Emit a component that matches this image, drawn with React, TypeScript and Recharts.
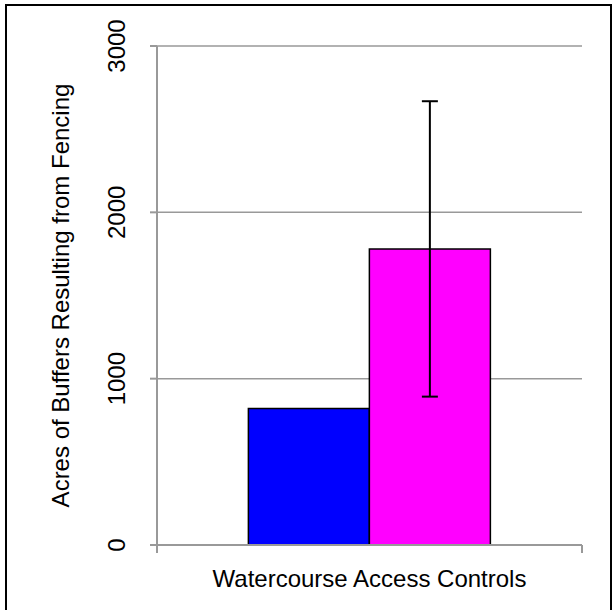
import React from 'react';
import { BarChart, Bar, XAxis, YAxis, CartesianGrid, ErrorBar, Label } from 'recharts';

/* ---------- data ---------- */
const categories = ['Watercourse Access Controls'];
const blueValues = [821];
const pinkValues = [1780];
const pinkErrors = [888];
const yTicks = [0, 1000, 2000, 3000];
const yTitle = 'Acres of Buffers Resulting from Fencing';

const data = categories.map((name, i) => ({
  name,
  blue: blueValues[i],
  pink: pinkValues[i],
  pinkErr: pinkErrors[i],
}));

const GRID = '#999999';
const FONT = '"Liberation Sans", Arial, sans-serif';
const FS = 24;

function YTick(props: any) {
  const { x, y, payload } = props;
  return (
    <text
      x={x}
      y={y}
      transform={`rotate(-90, ${x}, ${y})`}
      textAnchor="middle"
      fontSize={FS}
      fontFamily={FONT}
      fill="#000"
    >
      {payload.value}
    </text>
  );
}

// category label plus the tick marks at the band edges (Excel style)
function CatTick(props: any) {
  const { x, y, payload } = props;
  const half = payload?.offset ?? 212;
  return (
    <g>
      <line x1={x - half} y1={y} x2={x - half} y2={y + 8} stroke={GRID} strokeWidth={2} />
      <line x1={x + half} y1={y} x2={x + half} y2={y + 8} stroke={GRID} strokeWidth={2} />
      <text x={x} y={y + 42} textAnchor="middle" fontSize={FS} fontFamily={FONT} fill="#000">
        {payload.value}
      </text>
    </g>
  );
}

export default function App() {
  return (
    <div style={{ position: 'absolute', left: 0, top: 0, width: 613, height: 610, background: '#fff' }}>
      <div
        style={{
          position: 'absolute',
          left: 5,
          top: 4,
          width: 607,
          height: 612,
          border: '2px solid #000',
          boxSizing: 'border-box',
        }}
      />
      <div style={{ position: 'absolute', left: 0, top: 0 }}>
        <BarChart
          width={613}
          height={610}
          data={data}
          margin={{ top: 46, right: 31, bottom: 0, left: 0 }}
          barCategoryGap="21.5%"
          barGap={0}
        >
          <CartesianGrid vertical={false} stroke={GRID} strokeWidth={1.5} />
          <XAxis
            dataKey="name"
            type="category"
            axisLine={{ stroke: GRID, strokeWidth: 2 }}
            tickLine={false}
            tickSize={0}
            tickMargin={0}
            height={65}
            tick={<CatTick />}
            interval={0}
          />
          <YAxis
            type="number"
            domain={[0, 3000]}
            ticks={yTicks}
            width={157}
            tickSize={7}
            tickMargin={25}
            axisLine={{ stroke: GRID, strokeWidth: 2 }}
            tickLine={{ stroke: GRID, strokeWidth: 2 }}
            tick={<YTick />}
          >
            <Label
              value={yTitle}
              content={(p: any) => {
                const vb = p.viewBox || {};
                const cx = 69;
                const cy = (vb.y ?? 0) + (vb.height ?? 0) / 2;
                return (
                  <text
                    x={cx}
                    y={cy}
                    transform={`rotate(-90, ${cx}, ${cy})`}
                    textAnchor="middle"
                    fontSize={FS}
                    fontFamily={FONT}
                    fill="#000"
                  >
                    {yTitle}
                  </text>
                );
              }}
            />
          </YAxis>
          <Bar dataKey="blue" fill="#0000FF" stroke="#000" strokeWidth={1.5} isAnimationActive={false} />
          <Bar dataKey="pink" fill="#FF00FF" stroke="#000" strokeWidth={1.5} isAnimationActive={false}>
            <ErrorBar dataKey="pinkErr" direction="y" width={8} stroke="#000" strokeWidth={2} isAnimationActive={false} />
          </Bar>
        </BarChart>
      </div>
    </div>
  );
}
